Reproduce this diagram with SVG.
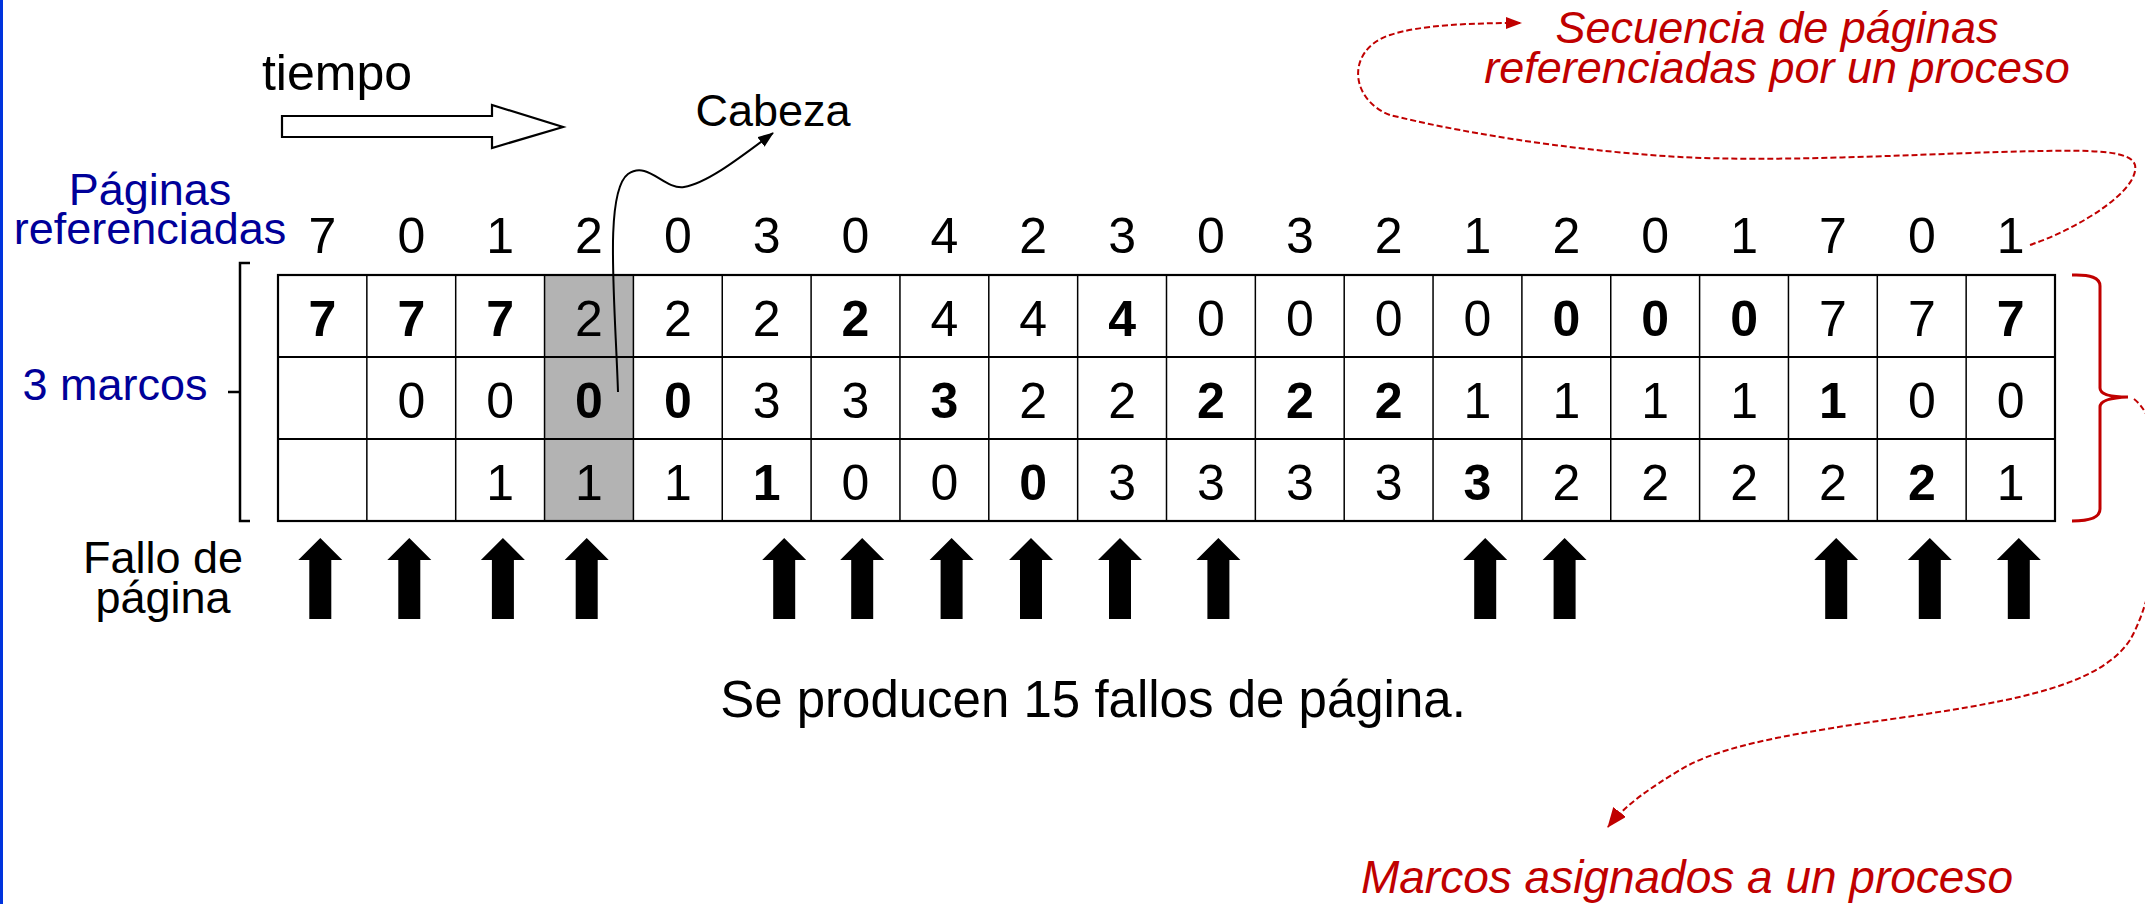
<svg xmlns="http://www.w3.org/2000/svg" xmlns:xlink="http://www.w3.org/1999/xlink" width="2145" height="904" viewBox="0 0 2145 904">
<style>
text{font-family:"Liberation Sans",Arial,sans-serif;}
.d{font-size:50px;fill:#000;text-anchor:middle;}
.b{font-weight:bold;}
.blue{fill:#000099;font-size:45px;text-anchor:middle;}
.blk{fill:#000;font-size:45px;text-anchor:middle;}
.red{fill:#c00000;font-size:45px;font-style:italic;text-anchor:middle;}
.grid{stroke:#000;stroke-width:1.5;fill:none;}
.row{stroke:#000;stroke-width:2.2;fill:none;}
.dash{stroke:#c00000;stroke-width:2;fill:none;stroke-dasharray:6 3;}
</style>
<defs>
<path id="fa" d="M0 0 L22 22 L11 22 L11 81 L-11 81 L-11 22 L-22 22 Z" fill="#000"/>
<marker id="ab" viewBox="0 0 16 12" refX="15" refY="6" markerWidth="16" markerHeight="12" markerUnits="userSpaceOnUse" orient="auto"><path d="M0 0 L16 6 L0 12 Z" fill="#000"/></marker>
<marker id="ar" viewBox="0 0 16 12" refX="15" refY="6" markerWidth="16" markerHeight="12" markerUnits="userSpaceOnUse" orient="auto"><path d="M0 0 L16 6 L0 12 Z" fill="#c00000"/></marker>
<marker id="ar2" viewBox="0 0 20 16" refX="19" refY="8" markerWidth="20" markerHeight="16" markerUnits="userSpaceOnUse" orient="auto"><path d="M0 0 L20 8 L0 16 Z" fill="#c00000"/></marker>
</defs>
<rect x="0" y="0" width="2145" height="904" fill="#fff"/>
<rect x="0" y="0" width="3" height="904" fill="#0033dd"/>

<g id="tiempo">
<text x="337" y="90" style="font-size:50px;fill:#000;text-anchor:middle">tiempo</text>
<path d="M282 116 L492 116 L492 105 L563 127 L492 148 L492 137 L282 137 Z" fill="#fff" stroke="#000" stroke-width="2.2"/>
</g>

<g id="cabeza">
<text class="blk" x="773" y="126">Cabeza</text>
</g>

<g id="label-paginas">
<text class="blue" x="150" y="205">Páginas</text>
<text class="blue" x="150" y="244">referenciadas</text>
</g>

<g id="label-marcos">
<text class="blue" x="115" y="400">3 marcos</text>
<path d="M250 263 L240 263 L240 521 L250 521 M228 392 L240 392" fill="none" stroke="#000" stroke-width="2.5"/>
</g>

<g id="label-fallo">
<text class="blk" x="163" y="573">Fallo de</text>
<text class="blk" x="163" y="613">página</text>
</g>

<g id="reference-row">
<text class="d" x="322.4" y="253">7</text>
<text class="d" x="411.3" y="253">0</text>
<text class="d" x="500.1" y="253">1</text>
<text class="d" x="589.0" y="253">2</text>
<text class="d" x="677.8" y="253">0</text>
<text class="d" x="766.7" y="253">3</text>
<text class="d" x="855.5" y="253">0</text>
<text class="d" x="944.4" y="253">4</text>
<text class="d" x="1033.2" y="253">2</text>
<text class="d" x="1122.1" y="253">3</text>
<text class="d" x="1211.0" y="253">0</text>
<text class="d" x="1299.8" y="253">3</text>
<text class="d" x="1388.7" y="253">2</text>
<text class="d" x="1477.5" y="253">1</text>
<text class="d" x="1566.4" y="253">2</text>
<text class="d" x="1655.2" y="253">0</text>
<text class="d" x="1744.1" y="253">1</text>
<text class="d" x="1832.9" y="253">7</text>
<text class="d" x="1921.8" y="253">0</text>
<text class="d" x="2010.6" y="253">1</text>
</g>

<g id="table">
<rect x="278" y="275" width="1777" height="246" fill="#fff"/>
<rect x="544.55" y="275" width="88.85" height="246" fill="#b3b3b3"/>
<path class="grid" d="M366.85 275V521M455.7 275V521M544.55 275V521M633.4 275V521M722.25 275V521M811.1 275V521M899.95 275V521M988.8 275V521M1077.65 275V521M1166.5 275V521M1255.35 275V521M1344.2 275V521M1433.05 275V521M1521.9 275V521M1610.75 275V521M1699.6 275V521M1788.45 275V521M1877.3 275V521M1966.15 275V521"/>
<path class="row" d="M278 357H2055M278 439H2055"/>
<rect class="row" x="278" y="275" width="1777" height="246"/>
<!-- row 1 -->
<text class="d b" x="322.4" y="336">7</text>
<text class="d b" x="411.3" y="336">7</text>
<text class="d b" x="500.1" y="336">7</text>
<text class="d" x="589.0" y="336">2</text>
<text class="d" x="677.8" y="336">2</text>
<text class="d" x="766.7" y="336">2</text>
<text class="d b" x="855.5" y="336">2</text>
<text class="d" x="944.4" y="336">4</text>
<text class="d" x="1033.2" y="336">4</text>
<text class="d b" x="1122.1" y="336">4</text>
<text class="d" x="1211.0" y="336">0</text>
<text class="d" x="1299.8" y="336">0</text>
<text class="d" x="1388.7" y="336">0</text>
<text class="d" x="1477.5" y="336">0</text>
<text class="d b" x="1566.4" y="336">0</text>
<text class="d b" x="1655.2" y="336">0</text>
<text class="d b" x="1744.1" y="336">0</text>
<text class="d" x="1832.9" y="336">7</text>
<text class="d" x="1921.8" y="336">7</text>
<text class="d b" x="2010.6" y="336">7</text>
<!-- row 2 -->
<text class="d" x="411.3" y="418">0</text>
<text class="d" x="500.1" y="418">0</text>
<text class="d b" x="589.0" y="418">0</text>
<text class="d b" x="677.8" y="418">0</text>
<text class="d" x="766.7" y="418">3</text>
<text class="d" x="855.5" y="418">3</text>
<text class="d b" x="944.4" y="418">3</text>
<text class="d" x="1033.2" y="418">2</text>
<text class="d" x="1122.1" y="418">2</text>
<text class="d b" x="1211.0" y="418">2</text>
<text class="d b" x="1299.8" y="418">2</text>
<text class="d b" x="1388.7" y="418">2</text>
<text class="d" x="1477.5" y="418">1</text>
<text class="d" x="1566.4" y="418">1</text>
<text class="d" x="1655.2" y="418">1</text>
<text class="d" x="1744.1" y="418">1</text>
<text class="d b" x="1832.9" y="418">1</text>
<text class="d" x="1921.8" y="418">0</text>
<text class="d" x="2010.6" y="418">0</text>
<!-- row 3 -->
<text class="d" x="500.1" y="499.5">1</text>
<text class="d" x="589.0" y="499.5">1</text>
<text class="d" x="677.8" y="499.5">1</text>
<text class="d b" x="766.7" y="499.5">1</text>
<text class="d" x="855.5" y="499.5">0</text>
<text class="d" x="944.4" y="499.5">0</text>
<text class="d b" x="1033.2" y="499.5">0</text>
<text class="d" x="1122.1" y="499.5">3</text>
<text class="d" x="1211.0" y="499.5">3</text>
<text class="d" x="1299.8" y="499.5">3</text>
<text class="d" x="1388.7" y="499.5">3</text>
<text class="d b" x="1477.5" y="499.5">3</text>
<text class="d" x="1566.4" y="499.5">2</text>
<text class="d" x="1655.2" y="499.5">2</text>
<text class="d" x="1744.1" y="499.5">2</text>
<text class="d" x="1832.9" y="499.5">2</text>
<text class="d b" x="1921.8" y="499.5">2</text>
<text class="d" x="2010.6" y="499.5">1</text>
</g>

<g id="fault-arrows">
<use xlink:href="#fa" x="320.3" y="538"/>
<use xlink:href="#fa" x="409.3" y="538"/>
<use xlink:href="#fa" x="502.9" y="538"/>
<use xlink:href="#fa" x="586.7" y="538"/>
<use xlink:href="#fa" x="784.2" y="538"/>
<use xlink:href="#fa" x="862.2" y="538"/>
<use xlink:href="#fa" x="951.6" y="538"/>
<use xlink:href="#fa" x="1031" y="538"/>
<use xlink:href="#fa" x="1120" y="538"/>
<use xlink:href="#fa" x="1218.4" y="538"/>
<use xlink:href="#fa" x="1485.2" y="538"/>
<use xlink:href="#fa" x="1564.6" y="538"/>
<use xlink:href="#fa" x="1836.2" y="538"/>
<use xlink:href="#fa" x="1929.8" y="538"/>
<use xlink:href="#fa" x="2018.8" y="538"/>
</g>

<g id="summary">
<text x="1093" y="717" style="font-size:51px;fill:#000;text-anchor:middle">Se producen 15 fallos de página.</text>
</g>

<g id="label-secuencia">
<text class="red" x="1777" y="43">Secuencia de páginas</text>
<text class="red" x="1777" y="83">referenciadas por un proceso</text>
</g>

<g id="label-marcos-asignados">
<text class="red" x="1687" y="893" style="font-size:46px">Marcos asignados a un proceso</text>
</g>

<g id="brace-right">
<path d="M2072 275 Q2100 274 2100 286 L2100 388 Q2100 397 2128 397 Q2100 398 2100 407 L2100 509 Q2100 521 2072 521" fill="none" stroke="#c00000" stroke-width="3"/>
</g>

<g id="connectors">
<path d="M618 392 C615 300 604 192 628 174 C648 160 664 190 684 187 C708 183 742 156 773 133" fill="none" stroke="#000" stroke-width="2" marker-end="url(#ab)"/>
<path class="dash" d="M2030 245 C2080 228 2140 190 2135 165 C2130 148 2080 150 2000 152 C1900 155 1780 162 1680 157 C1560 150 1450 130 1390 115 C1350 100 1345 50 1390 35 C1420 25 1470 23 1521 23" marker-end="url(#ar)"/>
<path class="dash" d="M2134 399 C2175 430 2165 580 2130 640 C2100 685 2020 700 1906 717 C1800 732 1720 745 1680 770 C1650 788 1625 805 1608 827" marker-end="url(#ar2)"/>
</g>
</svg>
